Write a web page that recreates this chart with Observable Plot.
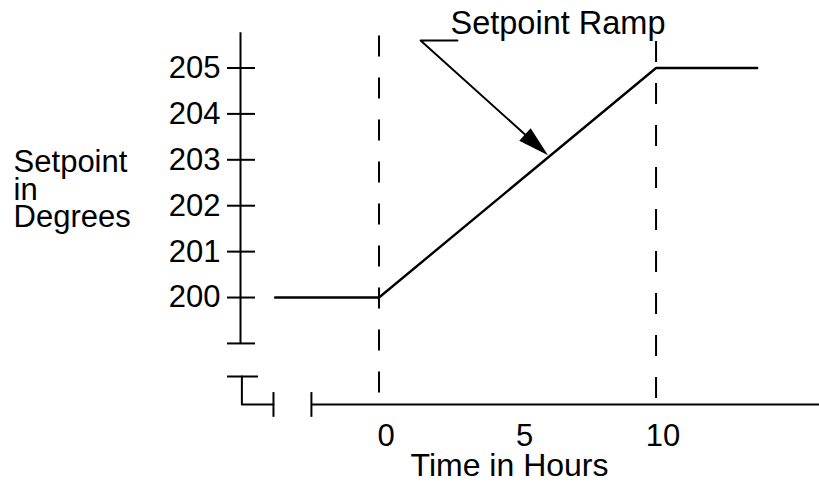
<!DOCTYPE html>
<html><head><meta charset="utf-8">
<script src="https://cdn.jsdelivr.net/npm/d3@7"></script>
<script src="https://cdn.jsdelivr.net/npm/@observablehq/plot@0.6"></script>
<style>body{margin:0;background:#fff} #chart svg{display:block}</style>
</head><body><div id="chart"></div>
<script>
// ---- data ----
const timeHours = [-3.75, 0, 10, 13.65];
const setpointDeg = [200, 200, 205, 205];
const yTicks = [199, 200, 201, 202, 203, 204, 205];
const yTickLabels = ["", "200", "201", "202", "203", "204", "205"];
const xTicks = [0, 5, 10];
const xTickLabels = ["0", "5", "10"];
const rampMarkers = [0, 10];           // dashed verticals (hours)
const yAxisExtent = [199, 205.77];     // degrees
const xAxisLevel = 197.67;             // degrees, broken x-axis baseline
const xAxisExtent = [-2.44, 15.9];     // hours
const breakTopTick = {y: 198.28, x1: -5.47, x2: -4.35};
const breakCorner = [[-4.95, 198.28], [-4.95, 197.67], [-3.81, 197.67]];
const breakEnds = [-3.81, -2.44];
const breakEndSpan = [197.39, 197.93];
const markerSpans = [[197.92, 205.77], [197.8, 205.68]];
const arrowLeader = [[2.83, 205.6], [1.5, 205.6]];
const arrowTip = [6.1, 203.1];
const yLabel = {text: "Setpoint\nin\nDegrees", x: -13.19, y: 202.33};
const xLabel = {text: "Time in Hours", x: 5, y: 196.34};
const rampLabel = {text: "Setpoint Ramp", x: 2.58, y: 205.97};

// ---- layout ----
const W = 819, H = 483;
const mL = 240, mR = 0, mT = 0, mB = 79;
const xDomain = [-5, 15.9], yDomain = [197.67, 206.47];
const pxX = (W - mL - mR) / (xDomain[1] - xDomain[0]);
const pxY = (H - mT - mB) / (yDomain[1] - yDomain[0]);

const series = timeHours.map((t, i) => ({t, v: setpointDeg[i]}));

// arrow geometry (screen direction from data)
const dxp = (arrowTip[0] - arrowLeader[1][0]) * pxX;
const dyp = -(arrowTip[1] - arrowLeader[1][1]) * pxY;
const angle = Math.atan2(dxp, -dyp) * 180 / Math.PI;
const len = Math.hypot(dxp, dyp);
const back = 15;
const shaftEnd = [arrowTip[0] - (dxp / len) * back / pxX, arrowTip[1] + (dyp / len) * back / pxY];
const arrowPath = [arrowLeader[0], arrowLeader[1], shaftEnd];

const plot = Plot.plot({
  width: W, height: H,
  marginLeft: mL, marginRight: mR, marginTop: mT, marginBottom: mB,
  x: {domain: xDomain, axis: null},
  y: {domain: yDomain, axis: null},
  style: {fontSize: "31px", fontFamily: "'Liberation Sans', Arial, Helvetica, sans-serif", color: "black", background: "white", overflow: "visible"},
  marks: [
    // y axis
    Plot.ruleX([-5], {y1: yAxisExtent[0], y2: yAxisExtent[1], strokeWidth: 2}),
    Plot.axisY({ticks: yTicks, tickFormat: d => yTickLabels[yTicks.indexOf(d)], tickSize: 28, dx: 15, tickPadding: 7, anchor: "left", label: null, strokeWidth: 2, fontSize: 31}),
    // axis break
    Plot.ruleY([breakTopTick], {y: "y", x1: "x1", x2: "x2", strokeWidth: 2}),
    Plot.line(breakCorner, {x: d => d[0], y: d => d[1], strokeWidth: 2}),
    Plot.ruleX(breakEnds, {y1: breakEndSpan[0], y2: breakEndSpan[1], strokeWidth: 2}),
    // x axis
    Plot.ruleY([xAxisLevel], {x1: xAxisExtent[0], x2: xAxisExtent[1], strokeWidth: 2}),
    Plot.axisX({ticks: xTicks, tickFormat: d => xTickLabels[xTicks.indexOf(d)], tickSize: 0, tickPadding: 19, dx: 7, anchor: "bottom", label: null, fontSize: 31}),
    // dashed markers
    Plot.ruleX(rampMarkers, {x: d => d, y1: (d, i) => markerSpans[i][0], y2: (d, i) => markerSpans[i][1], strokeWidth: 2, strokeDasharray: "21,21"}),
    // setpoint
    Plot.line(series, {x: "t", y: "v", strokeWidth: 2.4, strokeLinejoin: "miter"}),
    // annotation arrow
    Plot.line(arrowPath, {x: d => d[0], y: d => d[1], strokeWidth: 2}),
    Plot.vector([arrowTip], {x: d => d[0], y: d => d[1], length: 31, r: 8.5, rotate: angle, anchor: "end", shape: "spike", fill: "black", stroke: "none"}),
    // labels
    Plot.text([yLabel], {x: "x", y: "y", text: "text", textAnchor: "start", lineAnchor: "middle", lineHeight: 0.9, fontSize: 31, fill: "black"}),
    Plot.text([xLabel], {x: "x", y: "y", text: "text", dx: -8, lineAnchor: "middle", fontSize: 32, fill: "black"}),
    Plot.text([rampLabel], {x: "x", y: "y", text: "text", textAnchor: "start", lineAnchor: "middle", fontSize: 32.5, fill: "black"})
  ]
});
document.getElementById("chart").append(plot);
</script>
</body></html>
